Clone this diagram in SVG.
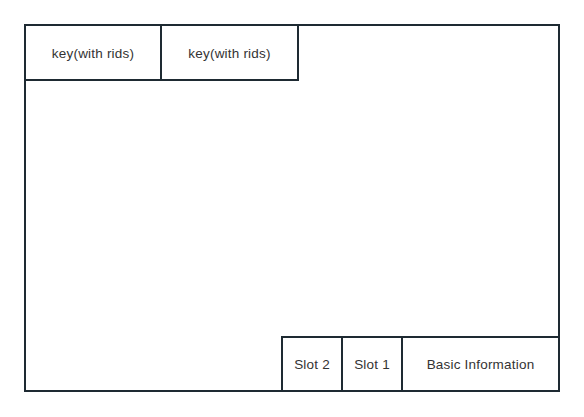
<svg xmlns="http://www.w3.org/2000/svg" width="584" height="417" viewBox="0 0 584 417">
<style>
.b{fill:#fff;stroke:#1e2a32;stroke-width:2}
.t{font-family:"Liberation Sans",Arial,sans-serif;font-size:13.5px;letter-spacing:0.2px;fill:#333;text-anchor:middle;dominant-baseline:central}
</style>
<rect width="584" height="417" fill="#fff"/>
<g id="outer"><rect class="b" x="25" y="25" width="534" height="366"/></g>
<g id="key1"><rect class="b" x="25" y="25" width="136" height="55"/><text class="t" x="93" y="53">key(with rids)</text></g>
<g id="key2"><rect class="b" x="161" y="25" width="137" height="55"/><text class="t" x="229.5" y="53">key(with rids)</text></g>
<g id="slot2"><rect class="b" x="282" y="337" width="60" height="54"/><text class="t" x="312" y="364">Slot 2</text></g>
<g id="slot1"><rect class="b" x="342" y="337" width="60" height="54"/><text class="t" x="372" y="364">Slot 1</text></g>
<g id="basic"><rect class="b" x="402" y="337" width="157" height="54"/><text class="t" x="480.5" y="364">Basic Information</text></g>
<g id="connectors"></g>
</svg>
